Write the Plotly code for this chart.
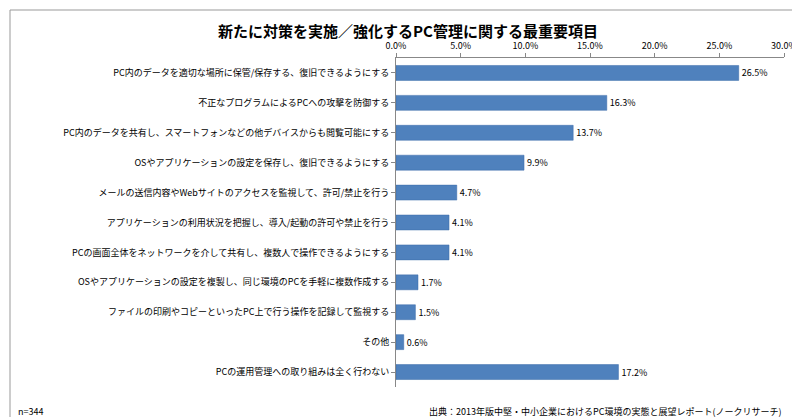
import plotly.graph_objects as go

categories = [
    "PC内のデータを適切な場所に保管/保存する、復旧できるようにする",
    "不正なプログラムによるPCへの攻撃を防御する",
    "PC内のデータを共有し、スマートフォンなどの他デバイスからも閲覧可能にする",
    "OSやアプリケーションの設定を保存し、復旧できるようにする",
    "メールの送信内容やWebサイトのアクセスを監視して、許可/禁止を行う",
    "アプリケーションの利用状況を把握し、導入/起動の許可や禁止を行う",
    "PCの画面全体をネットワークを介して共有し、複数人で操作できるようにする",
    "OSやアプリケーションの設定を複製し、同じ環境のPCを手軽に複数作成する",
    "ファイルの印刷やコピーといったPC上で行う操作を記録して監視する",
    "その他",
    "PCの運用管理への取り組みは全く行わない",
]
values = [26.5, 16.3, 13.7, 9.9, 4.7, 4.1, 4.1, 1.7, 1.5, 0.6, 17.2]
tick_vals = [0, 5, 10, 15, 20, 25, 30]
tick_text = ["0.0%", "5.0%", "10.0%", "15.0%", "20.0%", "25.0%", "30.0%"]

FONT = "Noto Sans CJK JP"
L, R, T, B = 388, 24, 50, 38
PW, PH = 800 - L - R, 417 - T - B
fig = go.Figure(go.Bar(
    y=categories, x=values, orientation="h",
    marker=dict(color="#4F81BD", line=dict(color="#3A6AA8", width=0.5)),
    width=0.5,
    text=[f"{v:.1f}%" for v in values], textposition="outside",
    textfont=dict(size=9, color="#000", family=FONT), cliponaxis=False,
))
fig.update_layout(
    width=800, height=417, paper_bgcolor="white", plot_bgcolor="white",
    margin=dict(l=L, r=R, t=T, b=B),
    font=dict(family=FONT, size=9, color="#000"),
    title=dict(text="<b>新たに対策を実施／強化するPC管理に関する最重要項目</b>",
               x=0.5, xanchor="center", y=0.955, font=dict(size=15, family=FONT)),
    showlegend=False,
    shapes=[dict(type="rect", xref="paper", yref="paper", x0=-(L - 2) / PW, x1=1 + (R - 4) / PW,
                 y0=-(B - 4) / PH, y1=1 + (T - 2) / PH, line=dict(color="#999", width=1))],
    annotations=[
        dict(text="n=344", xref="paper", yref="paper", x=-(L - 8) / PW, y=-(B - 14) / PH,
             xanchor="left", yanchor="middle", showarrow=False, font=dict(size=9)),
        dict(text="出典：2013年版中堅・中小企業におけるPC環境の実態と展望レポート(ノークリサーチ)",
             xref="paper", yref="paper", x=1.0, y=-(B - 14) / PH,
             xanchor="right", yanchor="middle", showarrow=False, font=dict(size=9)),
    ],
)
fig.update_xaxes(range=[0, 30], side="top", tickvals=tick_vals, ticktext=tick_text,
                 showgrid=False, zeroline=False, showline=True, linecolor="#888",
                 ticks="outside", ticklen=4, tickcolor="#888", tickfont=dict(size=9))
fig.update_yaxes(showline=True, linecolor="#888",
                 ticks="outside", ticklen=4, tickcolor="#888", tickfont=dict(size=9),
                 range=[10.5, -0.5])
fig.write_html("out.html")
